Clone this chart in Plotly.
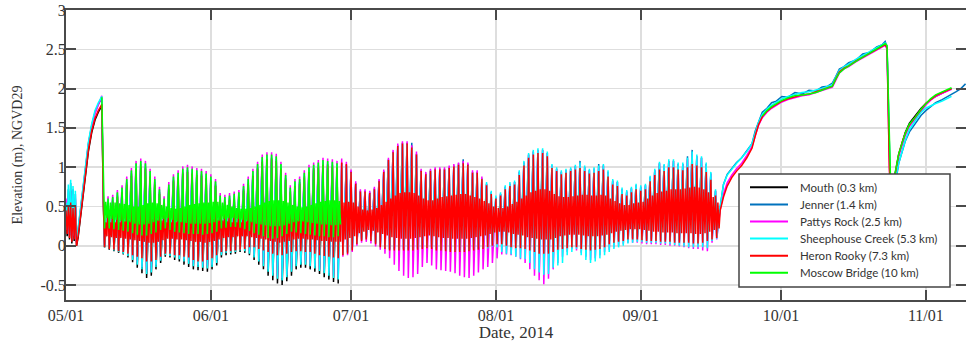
import datetime as dt
import plotly.graph_objects as go

BASE = dt.datetime(2014, 5, 1)

# ---------------- axis ticks ----------------
month_ticks = ["2014-05-01", "2014-06-01", "2014-07-01", "2014-08-01",
               "2014-09-01", "2014-10-01", "2014-11-01"]
month_labels = ["05/01", "06/01", "07/01", "08/01", "09/01", "10/01", "11/01"]
y_ticks = [-0.5, 0, 0.5, 1, 1.5, 2, 2.5, 3]
y_labels = ["-0.5", "0", "0.5", "1", "1.5", "2", "2.5", "3"]

names = ["Mouth (0.3 km)", "Jenner (1.4 km)", "Pattys Rock (2.5 km)",
         "Sheephouse Creek (5.3 km)", "Heron Rooky (7.3 km)", "Moscow Bridge (10 km)"]
colors = ["#000000", "#0072BD", "#FF00FF", "#00FFFF", "#FF0000", "#00FF00"]

# ---------------- early May (hours since 2014-05-01), elevations in cm ----------------
early_hours = [0, 6, 12, 18, 24, 30, 36, 42, 48, 54, 62, 75, 89, 102, 115, 132, 149, 166, 184]
mouth_early = [48, 12, 55, 8, 70, 3, 52, 6, 52, 0, 10, 38, 66, 96, 120, 144, 160, 170, 178]
jenner_early = [52, 20, 72, 14, 80, 8, 72, 12, 66, 5, 20, 48, 78, 106, 130, 153, 170, 180, 188]
pattys_early = [60, 20, 62, 14, 70, 8, 62, 12, 60, 4, 18, 46, 76, 104, 128, 151, 168, 179, 191]
sheep_early = [55, 22, 78, 15, 84, 8, 76, 14, 70, 6, 22, 50, 80, 108, 132, 155, 172, 182, 190]
heron_early = [45, 15, 52, 10, 55, 5, 48, 8, 50, 0, 12, 40, 68, 98, 122, 146, 162, 172, 180]
moscow_early = [None, None, None, None, None, None, None, None, None, None,
                None, None, None, None, None, None, None, None, 189]

# ---------------- daily tides (cm): hh = higher high, ll = lower low, lh = lower high, hl = higher low
# Mouth, 9 May (day 8) .. 28 Jun (day 58)
mouth_hh = [54, 56, 58, 64, 70, 81, 92, 101, 104, 101, 91, 81, 68, 56, 74, 84, 89, 94, 96, 94,
            92, 91, 88, 84, 78, 60, 58, 60, 62, 64, 72, 81, 91, 100, 109, 112, 112, 110, 100, 86,
            70, 78, 81, 89, 96, 99, 102, 105, 104, 103, 101]
mouth_ll = [-2, -5, -7, -9, -11, -15, -21, -28, -35, -41, -38, -30, -22, -14, -15, -18, -20, -24, -27, -30,
            -31, -32, -33, -30, -25, -15, -12, -11, -10, -8, -9, -12, -18, -24, -30, -38, -44, -48, -50, -45,
            -38, -30, -28, -28, -30, -33, -36, -40, -43, -46, -48]

# Jenner, 29 Jun (day 59) .. 17 Sep (day 139)
jenner_hh = [105, 103, 95, 80, 70, 70, 68, 73, 83, 95, 110, 120, 128, 131, 131, 131, 117, 96, 92, 96,
             98, 98, 98, 100, 102, 105, 110, 104, 94, 94, 86, 79, 68, 62, 66, 75, 79, 81, 94, 106,
             116, 120, 122, 122, 118, 102, 98, 94, 96, 98, 101, 108, 100, 96, 98, 104, 102, 94, 83, 81,
             72, 69, 73, 77, 75, 77, 87, 96, 105, 102, 108, 108, 104, 104, 114, 122, 114, 112, 104, 92,
             70]
jenner_ll = [-10, -8, -4, 4, 8, 10, 8, 4, 0, -2, -4, -4, -4, -4, -4, -4, -3, -2, -1, -2,
             -4, -4, -5, -6, -6, -6, -6, -5, -4, -3, -2, 0, 2, 4, 4, 2, 0, -1, -1, -2,
             -4, -6, -8, -8, -8, -6, -3, -2, -1, 0, 0, -2, -3, -4, -3, -2, 0, 4, 6, 7,
             8, 10, 10, 10, 9, 8, 8, 8, 7, 7, 7, 6, 6, 6, 6, 5, 5, 6, 8, 10,
             12]

# Pattys Rock, day 8 .. day 139
pattys_hh = [61, 63, 65, 71, 77, 88, 99, 108, 111, 108, 98, 88, 75, 63, 81, 91, 96, 101, 103, 101,
             99, 98, 95, 91, 85, 67, 65, 67, 69, 71, 79, 88, 98, 107, 116, 119, 119, 117, 107, 93,
             77, 85, 88, 96, 103, 106, 109, 112, 111, 110, 108,
             111, 107, 97, 82, 72, 72, 70, 75, 85, 97, 112, 122, 130, 133, 133, 128, 120, 98, 94, 98,
             100, 100, 100, 102, 104, 106, 108, 106, 96, 96, 88,
             79, 68, 62, 66, 75, 79, 81, 94, 106, 116, 120, 122, 122, 118, 102, 98, 94, 96, 98, 101,
             104, 100, 96, 98, 100, 102, 94, 83, 81, 72, 69, 73, 77, 75, 77, 87, 96, 105, 102, 108,
             108, 104, 104, 110, 118, 114, 112, 104, 92, 70]
pattys_ll = [1, -1, -3, -5, -7, -10, -15, -21, -27, -33, -31, -24, -16, -9, -10, -12, -14, -17, -20, -23,
             -24, -25, -26, -24, -19, -9, -6, -6, -5, -3, -4, -7, -12, -17, -23, -30, -35, -39, -41, -37,
             -30, -23, -21, -21, -23, -26, -29, -32, -35, -38, -40,
             -14, -12, -8, 0, 4, 5, 3, -1, -5, -10, -16, -24, -32, -38, -41, -40, -36, -27, -22, -25,
             -30, -31, -32, -33, -35, -38, -40, -41, -38, -34, -30, -27, -22, -16, -11, -11, -12, -14, -17, -22,
             -30, -38, -44, -49, -42, -30, -22, -14, -8, -4, -6, -9, -14, -18, -16, -12, -8, -5, -2, 0,
             2, 4, 4, 4, 3, 2, 2, 2, 1, 1, 0, 0, -1, -2, -3, -4, -4, -6, -7, 4,
             8]

# Sheephouse Creek, day 8 .. day 139
sheep_hh = [57, 59, 61, 67, 73, 84, 95, 104, 107, 104, 94, 84, 71, 59, 77, 87, 92, 97, 99, 97,
            95, 94, 91, 87, 81, 63, 61, 63, 65, 67, 75, 84, 94, 103, 112, 115, 115, 113, 103, 89,
            73, 81, 84, 92, 99, 102, 105, 108, 107, 106, 104,
            104, 102, 93, 78, 68, 68, 66, 71, 81, 93, 108, 118, 126, 129, 129, 124, 115, 94, 90, 94,
            96, 96, 96, 98, 100, 102, 104, 102, 92, 92, 85,
            81, 70, 64, 68, 77, 81, 83, 96, 108, 118, 122, 124, 124, 120, 104, 100, 96, 98, 100, 103,
            106, 102, 98, 100, 102, 104, 96, 85, 83, 74, 71, 75, 79, 77, 79, 89, 98, 107, 104, 110,
            110, 106, 106, 112, 120, 116, 114, 106, 94, 72]
sheep_ll = [-2, -4, -6, -8, -10, -13, -18, -24, -30, -36, -34, -27, -19, -12, -13, -15, -17, -20, -23, -26,
            -27, -28, -29, -27, -22, -12, -9, -9, -8, -6, -7, -10, -15, -20, -26, -33, -38, -42, -44, -40,
            -33, -26, -24, -24, -26, -29, -32, -35, -38, -41, -43,
            -11, -9, -5, 3, 7, 9, 7, 3, -1, -3, -5, -5, -5, -5, -5, -5, -4, -3, -2, -3,
            -5, -5, -6, -7, -7, -7, -7, -6, -5, -4, -3,
            -3, -1, -2, -8, -10, -11, -14, -16, -17, -22, -30, -34, -37, -36, -28, -25, -22, -12, -8, -4,
            -12, -18, -22, -20, -16, -12, -8, -4, -2, 0, 3, 4, 5, 5, 4, 4, 4, 3, 3, 2,
            1, 0, -1, -2, -2, -2, -2, -3, 6, 9]

# Heron Rooky, day 8 .. day 139
heron_hh = [52, 54, 56, 62, 68, 78, 89, 98, 101, 98, 88, 78, 66, 55, 72, 82, 87, 92, 94, 92,
            90, 89, 86, 82, 76, 58, 56, 58, 60, 62, 70, 79, 89, 98, 107, 110, 110, 108, 98, 84,
            68, 76, 79, 87, 94, 97, 100, 103, 102, 101, 100,
            106, 104, 94, 79, 69, 69, 67, 72, 82, 94, 109, 119, 127, 130, 130, 125, 116, 95, 91, 95,
            97, 97, 97, 99, 101, 103, 105, 103, 93, 93, 85, 77, 66, 60, 64, 72, 76, 78, 90, 102,
            112, 116, 118, 118, 114, 99, 95, 91, 93, 95, 97, 99, 95, 92, 93, 95, 97, 88, 78, 76,
            66, 64, 68, 72, 70, 72, 82, 90, 97, 95, 100, 100, 97, 96, 100, 104, 102, 100, 94, 84,
            64]
heron_ll = [-2, -4, -5, -7, -8, -10, -12, -14, -16, -20, -20, -18, -14, -10, -10, -12, -12, -14, -15, -18,
            -20, -20, -18, -16, -12, -8, -7, -7, -6, -5, -4, -2, -2, -4, -6, -8, -10, -12, -12, -10,
            -8, -7, -7, -8, -8, -10, -12, -13, -14, -15, -16,
            -12, -10, -6, 2, 6, 8, 6, 2, -2, -4, -6, -6, -6, -6, -6, -6, -5, -4, -3, -4,
            -6, -6, -7, -8, -8, -8, -8, -7, -6, -5, -4, -2, 0, 2, 2, 0, -2, -3, -3, -4,
            -6, -8, -10, -10, -10, -8, -5, -4, -3, -2, -2, -4, -5, -6, -5, -4, -2, 2, 4, 5,
            6, 8, 8, 8, 7, 6, 6, 6, 5, 5, 5, 4, 4, 4, 4, 3, 3, 4, 6, 8,
            10]
heron_lh = [30, 30, 30, 30, 31, 32, 33, 34, 35, 35, 34, 33, 32, 30, 30, 30, 31, 32, 33, 34,
            35, 35, 35, 34, 33, 32, 31, 30, 30, 30, 31, 32, 33, 35, 36, 37, 38, 38, 37, 36,
            34, 33, 33, 34, 35, 36, 37, 38, 40, 42, 45,
            55, 56, 55, 50, 46, 45, 46, 48, 52, 56, 60, 64, 67, 68, 68, 67, 64, 60, 58, 58,
            60, 62, 63, 64, 65, 66, 66, 64, 62, 60, 57, 54, 50, 48, 48, 50, 53, 56, 60, 64,
            68, 70, 72, 72, 70, 66, 63, 62, 62, 63, 64, 65, 65, 64, 64, 65, 64, 60, 57, 54,
            52, 52, 54, 55, 56, 60, 64, 67, 69, 70, 72, 72, 72, 73, 74, 75, 74, 72, 68, 62,
            55]
heron_hl = [12, 11, 10, 10, 9, 8, 7, 6, 5, 4, 4, 5, 7, 9, 9, 8, 8, 7, 6, 5,
            5, 4, 5, 6, 8, 10, 11, 11, 12, 12, 12, 11, 10, 9, 8, 6, 5, 4, 5, 6,
            8, 9, 9, 8, 8, 7, 6, 6, 5, 5, 5,
            8, 10, 12, 16, 18, 20, 19, 17, 15, 13, 11, 10, 9, 9, 9, 10, 11, 12, 13, 12,
            11, 10, 10, 9, 9, 9, 9, 10, 11, 12, 13, 15, 17, 18, 18, 17, 15, 14, 13, 11,
            10, 9, 8, 8, 8, 10, 12, 13, 14, 14, 14, 13, 12, 12, 12, 13, 14, 16, 18, 19,
            20, 21, 21, 21, 20, 19, 18, 18, 17, 17, 17, 16, 16, 16, 16, 15, 15, 16, 18, 20,
            22]

# Moscow Bridge, day 8 .. day 58
moscow_hh = [58, 60, 62, 68, 74, 85, 96, 105, 108, 105, 95, 85, 72, 60, 78, 88, 93, 98, 100, 98,
             96, 95, 92, 88, 82, 64, 62, 64, 66, 68, 76, 85, 95, 104, 113, 116, 116, 114, 104, 90,
             74, 82, 85, 93, 100, 103, 106, 109, 108, 107, 105]
moscow_ll = [22, 22, 21, 20, 19, 18, 16, 14, 13, 13, 15, 17, 20, 22, 20, 18, 17, 16, 15, 15,
             15, 14, 15, 16, 18, 22, 23, 24, 24, 23, 21, 19, 16, 14, 12, 10, 9, 10, 12, 15,
             18, 17, 16, 15, 14, 13, 12, 12, 11, 11, 12]
moscow_lh = [56, 55, 55, 54, 53, 52, 50, 50, 52, 54, 55, 54, 52, 50, 48, 47, 48, 50, 52, 53,
             54, 55, 55, 56, 56, 55, 52, 50, 48, 47, 47, 48, 50, 52, 55, 57, 58, 58, 57, 55,
             52, 50, 49, 50, 52, 54, 56, 57, 58, 58, 57]
moscow_hl = [35, 34, 33, 32, 31, 30, 28, 27, 27, 28, 30, 32, 34, 35, 33, 31, 30, 29, 28, 28,
             28, 28, 29, 30, 32, 34, 35, 35, 34, 33, 32, 30, 28, 27, 26, 25, 25, 25, 26, 28,
             30, 31, 31, 30, 29, 28, 27, 27, 26, 26, 27]

# ---------------- closed-mouth period (days since 1 May), elevations in cm ----------------
late_days = [140.0, 140.7, 141.5, 142.5, 143.5, 144.6, 145.7, 146.8, 147.5, 148.2,
             149.0, 150.0, 151.0, 152.0, 153.2, 154.5, 156.0, 157.5, 159.0, 160.5,
             161.8, 163.0, 164.0, 164.7, 165.5, 166.5, 167.5, 169.0, 170.5, 172.0,
             173.5, 174.7, 175.3, 175.7, 176.2, 176.6, 177.0, 177.4, 178.2, 179.0,
             179.6, 180.5, 181.8, 183.0, 184.0, 185.0, 186.1, 187.5, 188.5, 189.5,
             190.5, 191.5, 192.5]
mouth_late = [None, None, None, None, None, None, None, None, None, None,
              None, None, None, None, None, None, None, None, None, None,
              None, None, None, None, None, None, None, None, None, None,
              None, None, None, None, 50, 30, 55, 90, 116, 133,
              144, 156, 166, 175, 181, 186, 190, 194, 197, 200,
              None, None, None]
jenner_late = [50, 78, 91, 99, 106, 112, 121, 130, 146, 158,
               170, 175, 182, 184, 190, 189, 195, 193, 198, 197,
               202, 203, 207, 215, 225, 228, 233, 236, 244, 246,
               253, 256, 260, 253, 120, 30, 45, 75, 105, 122,
               133, 145, 156, 166, 172, 177, 182, 186, 189, 192,
               196, 200, 206]
pattys_late = [46, 66, 80, 90, 98, 105, 115, 126, 140, 153,
               163, 170, 175, 179, 183, 186, 189, 191, 192, 195,
               197, 200, 202, 210, 220, 225, 228, 234, 239, 244,
               249, 253, 255, 250, 100, 40, 60, 88, 114, 130,
               140, 152, 162, 172, 179, 185, 190, 194, 197, 199,
               None, None, None]
sheep_late = [50, 78, 90, 98, 105, 112, 120, 130, 144, 157,
              167, 174, 179, 183, 187, 190, 193, 195, 196, 198,
              200, 203, 205, 214, 223, 228, 231, 237, 242, 247,
              252, 256, 258, 254, 120, 30, 50, 80, 105, 122,
              134, 148, 160, 170, 175, 178, 181, 184, 187, 190,
              None, None, None]
heron_late = [45, 62, 76, 87, 95, 102, 112, 124, 140, 154,
              164, 171, 176, 180, 184, 187, 190, 192, 193, 196,
              198, 201, 203, 212, 221, 226, 229, 235, 240, 245,
              250, 254, 256, 252, 100, 40, 60, 90, 117, 133,
              143, 154, 164, 174, 181, 186, 191, 195, 198, 200,
              None, None, None]
moscow_late = [None, None, None, None, None, None, None, None, None, None,
               165, 172, 177, 181, 185, 188, 191, 192, 193, 195,
               198, 200, 203, 212, 220, 225, 229, 235, 240, 245,
               250, 254, 257, 255, 140, 50, 60, 92, 117, 133,
               143, 155, 164, 174, 181, 187, 192, 196, 198, 201,
               None, None, None]


# ---------------- build series ----------------
def to_time(days):
    return BASE + dt.timedelta(days=days)


def add_explicit(xs, ys, days, vals):
    for d, v in zip(days, vals):
        if v is None:
            continue
        xs.append(to_time(d))
        ys.append(v / 100.0)


def add_tidal(xs, ys, start_day, arrays):
    fracs = [0.0, 0.25, 0.5, 0.75][:len(arrays)]
    for i in range(len(arrays[0])):
        for f, arr in zip(fracs, arrays):
            xs.append(to_time(start_day + i + f))
            ys.append(arr[i] / 100.0)


def add_gap(xs, ys):
    xs.append(None)
    ys.append(None)


early_days = [h / 24.0 for h in early_hours]

segments = [
    [("e", mouth_early), ("t", 8, [mouth_hh, mouth_ll]), ("g",), ("l", mouth_late)],
    [("e", jenner_early), ("g",), ("t", 59, [jenner_hh, jenner_ll]), ("l", jenner_late)],
    [("e", pattys_early), ("t", 8, [pattys_hh, pattys_ll]), ("l", pattys_late)],
    [("e", sheep_early), ("t", 8, [sheep_hh, sheep_ll]), ("l", sheep_late)],
    [("e", heron_early), ("t", 8, [heron_hh, heron_ll, heron_lh, heron_hl]), ("l", heron_late)],
    [("e", moscow_early), ("t", 8, [moscow_hh, moscow_ll, moscow_lh, moscow_hl]), ("g",), ("l", moscow_late)],
]

fig = go.Figure()
for name, color, segs in zip(names, colors, segments):
    xs, ys = [], []
    for seg in segs:
        if seg[0] == "e":
            add_explicit(xs, ys, early_days, seg[1])
        elif seg[0] == "t":
            add_tidal(xs, ys, seg[1], seg[2])
        elif seg[0] == "g":
            add_gap(xs, ys)
        else:
            add_explicit(xs, ys, late_days, seg[1])
    fig.add_trace(go.Scatter(x=xs, y=ys, mode="lines", name=name,
                             line=dict(color=color, width=1.5),
                             connectgaps=False, hoverinfo="skip", showlegend=False))

# ---------------- layout ----------------
W, H = 966, 342
ML, MR, MT, MB = 66, 0, 10, 42
PW, PH = W - ML - MR, H - MT - MB

SERIF = "Liberation Serif, Times New Roman, serif"
axis_common = dict(
    showline=True, linecolor="#4a4a4a", linewidth=2, mirror="ticks",
    ticks="inside", ticklen=10, tickwidth=2, tickcolor="#4a4a4a",
    showgrid=True, gridcolor="#dedede", gridwidth=1.6, zeroline=False,
    tickfont=dict(family=SERIF, size=16, color="#333333"),
    automargin=False,
)

fig.update_xaxes(
    type="date", range=[to_time(0), to_time(192.6)],
    tickvals=month_ticks, ticktext=month_labels, ticklabelstandoff=0,
    title=dict(text="Date, 2014", font=dict(family=SERIF, size=17, color="#333333"), standoff=6),
    **axis_common,
)
fig.update_yaxes(
    range=[-0.69, 3.0], tickvals=y_ticks, ticktext=y_labels, ticklabelstandoff=-5,
    title=dict(text="Elevation (m), NGVD29", font=dict(family=SERIF, size=14, color="#333333"), standoff=15),
    **axis_common,
)


# legend box drawn in paper coordinates (pixel layout of the reference legend)
def px(x):
    return (x - ML) / PW


def py(y):
    return (MT + PH - y) / PH


LEG_LEFT, LEG_RIGHT, LEG_TOP, LEG_BOTTOM = 739, 950, 174, 287
ROW0, ROW_STEP = 187.3, 17.1
SAMPLE_X0, SAMPLE_X1, TEXT_X = 750, 788, 798

shapes = [dict(type="rect", xref="paper", yref="paper",
               x0=px(LEG_LEFT), x1=px(LEG_RIGHT), y0=py(LEG_BOTTOM), y1=py(LEG_TOP),
               fillcolor="white", line=dict(color="#444444", width=1.5), layer="above")]
annotations = []
for i, (name, color) in enumerate(zip(names, colors)):
    yy = py(ROW0 + i * ROW_STEP)
    shapes.append(dict(type="line", xref="paper", yref="paper",
                       x0=px(SAMPLE_X0), x1=px(SAMPLE_X1), y0=yy, y1=yy,
                       line=dict(color=color, width=2), layer="above"))
    annotations.append(dict(xref="paper", yref="paper", x=px(TEXT_X), y=yy,
                            xanchor="left", yanchor="middle", showarrow=False,
                            text=name, font=dict(family="Lato", size=11.5, color="#333333")))

fig.update_layout(
    width=W, height=H,
    margin=dict(l=ML, r=MR, t=MT, b=MB),
    paper_bgcolor="white", plot_bgcolor="white",
    showlegend=False,
    shapes=shapes, annotations=annotations,
)

fig.write_html("out.html", config={"displayModeBar": False, "staticPlot": True},
               post_script="document.body.style.margin='0px';document.body.style.padding='0px';")
